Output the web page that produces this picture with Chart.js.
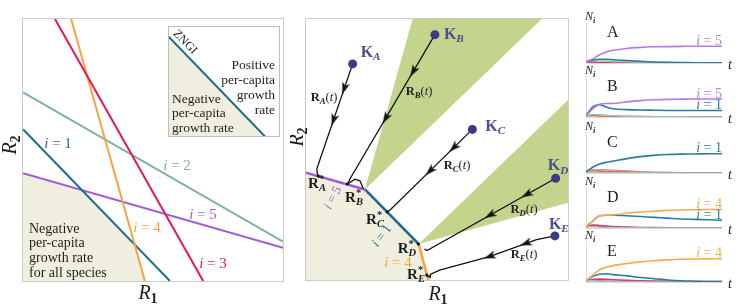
<!DOCTYPE html>
<html>
<head>
<meta charset="utf-8">
<script src="https://cdn.jsdelivr.net/npm/chart.js@4.4.1/dist/chart.umd.min.js"></script>
<style>
  body { margin: 0; background: #fff; }
  #wrap { position: relative; width: 748px; height: 308px; overflow: hidden; }
  canvas { position: absolute; }
</style>
</head>
<body>
<div id="wrap">
  <canvas id="leftChart" width="290" height="308" style="left:0px;top:0px"></canvas>
  <canvas id="insetChart" width="112" height="111" style="left:168px;top:26px"></canvas>
  <canvas id="midChart" width="290" height="308" style="left:290px;top:0px"></canvas>
  <canvas id="nA" width="168" height="62" style="left:580px;top:11px"></canvas>
  <canvas id="nB" width="168" height="62" style="left:580px;top:65px"></canvas>
  <canvas id="nC" width="168" height="62" style="left:580px;top:121px"></canvas>
  <canvas id="nD" width="168" height="62" style="left:580px;top:176px"></canvas>
  <canvas id="nE" width="168" height="62" style="left:580px;top:230px"></canvas>
</div>
<script>
// zero net growth isoclines, end points [R1, R2]
const zngi1 = [[0, 5.79], [5.65, 0]];
const zngi2 = [[0, 7.2], [10, 1.5]];
const zngi3 = [[1.23, 10], [6.93, 0]];
const zngi4 = [[1.85, 10], [4.69, 0]];
const zngi5 = [[0, 4.11], [10, 1.27]];
const zngiNames = ['1', '2', '3', '4', '5'];

// region where every species declines
const envelope = [[0, 0], [0, 4.11], [2.25, 3.47], [4.3, 1.38], [4.67, 0]];

// inset
const insetLine = [[0, 0.91], [0.87, 0]];
const insetShade = [[0, 0], [0, 0.91], [0.87, 0]];

// middle panel
const cone1 = [[2.25, 3.47], [4.07, 10], [9.0, 10]];
const cone2 = [[4.3, 1.38], [10, 6.9], [10, 2.96]];
const supplyNames = ['A', 'B', 'C', 'D', 'E'];
const supplyPts = [[1.78, 8.28], [4.92, 9.4], [6.35, 5.77], [9.53, 3.9], [9.5, 1.69]];
const eqPts = [[0.47, 3.98], [1.58, 3.68], [3.1, 2.61], [4.29, 1.38], [4.61, 0.19]];
const trajA = [[1.78, 8.28], [0.41, 4.25], [0.44, 4.05], [0.47, 3.98]];
const trajB = [[4.92, 9.4], [1.66, 3.84], [1.61, 3.70], [1.87, 3.86], [2.06, 3.8], [2.19, 3.5]];
const trajC = [[6.35, 5.77], [3.2, 2.67], [3.1, 2.61]];
const trajD = [[9.53, 3.9], [4.62, 1.13], [4.52, 1.18]];
const trajE = [[9.5, 1.69], [8.8, 1.55], [7.0, 0.9], [5.1, 0.38], [4.76, 0.22], [4.74, 0.1], [4.62, 0.17]];
const arrowAt = [0.22, 0.5];

// abundance time series N_i(t), one panel per supply point
const tSteps = [0, 0.5, 1, 1.5, 2, 3, 4, 5, 6, 7, 8, 9, 10];
const nA1 = [0.03, 0.07, 0.09, 0.09, 0.08, 0.06, 0.04, 0.025, 0.015, 0.01, 0.005, 0.003, 0.002];
const nA2 = [0.03, 0.05, 0.05, 0.045, 0.04, 0.03, 0.02, 0.012, 0.008, 0.005, 0.003, 0.002, 0.001];
const nA3 = [0.03, 0.02, 0.012, 0.008, 0.005, 0.003, 0.002, 0.001, 0, 0, 0, 0, 0];
const nA4 = [0.03, 0.025, 0.02, 0.015, 0.01, 0.006, 0.004, 0.002, 0.001, 0, 0, 0, 0];
const nA5 = [0.03, 0.1, 0.2, 0.27, 0.31, 0.355, 0.38, 0.395, 0.4, 0.405, 0.41, 0.41, 0.41];

const nB1 = [0.03, 0.25, 0.3, 0.24, 0.2, 0.18, 0.17, 0.165, 0.16, 0.16, 0.16, 0.16, 0.16];
const nB2 = [0.03, 0.06, 0.05, 0.04, 0.03, 0.02, 0.012, 0.007, 0.004, 0.002, 0.001, 0, 0];
const nB3 = [0.03, 0.045, 0.04, 0.03, 0.022, 0.014, 0.009, 0.006, 0.004, 0.003, 0.002, 0.002, 0.002];
const nB4 = [0.03, 0.03, 0.02, 0.015, 0.01, 0.005, 0.003, 0.002, 0.001, 0, 0, 0, 0];
const nB5 = [0.03, 0.2, 0.31, 0.33, 0.33, 0.37, 0.4, 0.42, 0.43, 0.435, 0.44, 0.44, 0.44];

const nC1 = [0.03, 0.14, 0.22, 0.26, 0.29, 0.35, 0.4, 0.43, 0.45, 0.46, 0.465, 0.47, 0.47];
const nC2 = [0.03, 0.03, 0.02, 0.015, 0.01, 0.005, 0.003, 0.002, 0.001, 0, 0, 0, 0];
const nC3 = [0.03, 0.04, 0.035, 0.03, 0.025, 0.017, 0.011, 0.007, 0.005, 0.003, 0.002, 0.002, 0.002];
const nC4 = [0.03, 0.06, 0.065, 0.06, 0.05, 0.035, 0.022, 0.013, 0.008, 0.005, 0.003, 0.002, 0.001];
const nC5 = [0.03, 0.07, 0.08, 0.075, 0.065, 0.045, 0.03, 0.018, 0.01, 0.006, 0.004, 0.002, 0.001];

const nD1 = [0.03, 0.17, 0.3, 0.31, 0.31, 0.3, 0.28, 0.26, 0.24, 0.22, 0.21, 0.2, 0.19];
const nD2 = [0.03, 0.03, 0.02, 0.012, 0.008, 0.004, 0.002, 0.001, 0, 0, 0, 0, 0];
const nD3 = [0.03, 0.07, 0.06, 0.045, 0.035, 0.022, 0.014, 0.009, 0.006, 0.004, 0.003, 0.002, 0.002];
const nD4 = [0.03, 0.17, 0.3, 0.31, 0.32, 0.36, 0.39, 0.41, 0.43, 0.44, 0.445, 0.45, 0.45];
const nD5 = [0.03, 0.05, 0.04, 0.03, 0.02, 0.01, 0.005, 0.003, 0.002, 0.001, 0, 0, 0];

const nE1 = [0.03, 0.14, 0.19, 0.2, 0.18, 0.15, 0.11, 0.08, 0.05, 0.03, 0.02, 0.01, 0.01];
const nE2 = [0.03, 0.03, 0.02, 0.012, 0.008, 0.004, 0.002, 0.001, 0, 0, 0, 0, 0];
const nE3 = [0.03, 0.06, 0.07, 0.065, 0.055, 0.04, 0.03, 0.022, 0.016, 0.012, 0.01, 0.008, 0.008];
const nE4 = [0.03, 0.17, 0.3, 0.36, 0.4, 0.45, 0.49, 0.52, 0.54, 0.555, 0.56, 0.565, 0.57];
const nE5 = [0.03, 0.04, 0.03, 0.02, 0.015, 0.008, 0.004, 0.002, 0.001, 0, 0, 0, 0];

const C1 = '#1f6e8c', C2 = '#80b39c', C3 = '#e2185c', C4 = '#f7a340', C5 = '#a45ad5';
const S1 = '#2b7c9b', S2 = '#9cc7b0', S3 = '#e0336b', S4 = '#f7aa52', S5 = '#b57be3';
const BEIGE = '#f0efdf', CONE = '#c3d58d', KCOL = '#3c3c82', KTXT = '#4d4d90', INK = '#1e1e1e';
const SERIF = '"Liberation Serif", "DejaVu Serif", serif';

function toXY(arr) { return arr.map(p => ({ x: p[0], y: p[1] })); }

function lineDs(arr, color, width) {
  return { data: toXY(arr), borderColor: color, borderWidth: width, pointRadius: 0, fill: false, tension: 0 };
}
function shapeDs(arr, color) {
  return { data: toXY(arr), borderColor: 'transparent', borderWidth: 0, pointRadius: 0, fill: 'shape', backgroundColor: color };
}

function panelOpts(pad, xmax, ymax) {
  return {
    responsive: false, animation: false, events: [],
    layout: { padding: pad },
    plugins: { legend: { display: false }, tooltip: { enabled: false } },
    scales: {
      x: { type: 'linear', display: false, min: 0, max: xmax },
      y: { type: 'linear', display: false, min: 0, max: ymax }
    }
  };
}

// draws mixed text: parts = [[text, style]], style words: it b sub sup nx
function rich(ctx, x, y, parts, o) {
  const size = o.size || 14;
  ctx.save();
  ctx.translate(x, y);
  if (o.rot) ctx.rotate(o.rot * Math.PI / 180);
  ctx.fillStyle = o.color || INK;
  ctx.textBaseline = 'middle';
  ctx.textAlign = 'left';
  let w = 0;
  const m = parts.map(([t, st = '']) => {
    const small = st.includes('sub') || st.includes('sup');
    const font = (st.includes('it') ? 'italic ' : '') + (st.includes('b') ? 'bold ' : '') + (small ? size * 0.7 : size) + 'px ' + SERIF;
    ctx.font = font;
    const tw = ctx.measureText(t).width;
    const nx = st.includes('nx');
    if (!nx) w += tw;
    return { t, font, tw, nx, dy: st.includes('sub') ? size * 0.28 : st.includes('sup') ? -size * 0.3 : 0 };
  });
  let cx = o.align === 'right' ? -w : o.align === 'center' ? -w / 2 : 0;
  for (const p of m) {
    ctx.font = p.font;
    ctx.fillText(p.t, cx, p.dy);
    if (!p.nx) cx += p.tw;
  }
  ctx.restore();
}
function iEq(n) { return [['i', 'it'], [' = ' + n, '']]; }

const framePlugin = {
  id: 'frame',
  afterDatasetsDraw(chart) {
    const a = chart.chartArea, ctx = chart.ctx;
    ctx.save();
    ctx.strokeStyle = '#cbcbcb';
    ctx.lineWidth = 1;
    ctx.strokeRect(a.left - 0.5, a.top - 0.5, a.right - a.left + 1, a.bottom - a.top + 1);
    ctx.restore();
  }
};

// ---------- left panel ----------
const leftText = {
  id: 'leftText',
  afterDraw(chart) {
    const ctx = chart.ctx;
    rich(ctx, 58, 144, iEq(zngiNames[0]), { color: C1, size: 15, align: 'center' });
    rich(ctx, 177, 166, iEq(zngiNames[1]), { color: C2, size: 15, align: 'center' });
    rich(ctx, 213, 264, iEq(zngiNames[2]), { color: C3, size: 15, align: 'center' });
    rich(ctx, 147, 228, iEq(zngiNames[3]), { color: C4, size: 15, align: 'center' });
    rich(ctx, 203, 215, iEq(zngiNames[4]), { color: C5, size: 15, align: 'center' });
    const lines = ['Negative', 'per-capita', 'growth rate', 'for all species'];
    lines.forEach((s, k) => rich(ctx, 29, 229 + k * 14.8, [[s, '']], { size: 14 }));
    rich(ctx, 148, 294, [['R', 'it'], ['1', 'sub']], { size: 20, align: 'center' });
    rich(ctx, 11, 145, [['R', 'it'], ['2', 'sub']], { size: 20, align: 'center', rot: -90 });
  }
};

new Chart(document.getElementById('leftChart'), {
  type: 'line',
  data: {
    datasets: [
      lineDs(zngi3, C3, 2),
      lineDs(zngi4, C4, 2),
      lineDs(zngi1, C1, 2),
      lineDs(zngi5, C5, 2),
      lineDs(zngi2, C2, 2),
      shapeDs(envelope, BEIGE)
    ]
  },
  options: panelOpts({ left: 23, top: 19, right: 7, bottom: 27 }, 10, 10),
  plugins: [framePlugin, leftText]
});

// ---------- inset ----------
const insetText = {
  id: 'insetText',
  afterDraw(chart) {
    const ctx = chart.ctx;
    ctx.save();
    ctx.strokeStyle = '#bdbdbd';
    ctx.lineWidth = 1;
    ctx.strokeRect(0.5, 0.5, 111, 110);
    ctx.restore();
    rich(ctx, 17, 16, [['ZNGI', '']], { size: 12, align: 'center', rot: 46 });
    ['Positive', 'per-capita', 'growth', 'rate'].forEach((s, k) => rich(ctx, 107, 39 + k * 15, [[s, '']], { size: 13.5, align: 'right' }));
    ['Negative', 'per-capita', 'growth rate'].forEach((s, k) => rich(ctx, 4, 73 + k * 14.5, [[s, '']], { size: 13.5 }));
  }
};

new Chart(document.getElementById('insetChart'), {
  type: 'line',
  data: { datasets: [lineDs(insetLine, C1, 2), shapeDs(insetShade, BEIGE)] },
  options: panelOpts({ left: 0, top: 0, right: 0, bottom: 0 }, 1, 1),
  plugins: [insetText]
});

// ---------- middle panel ----------
const arrowImg = document.createElement('canvas');
arrowImg.width = 8; arrowImg.height = 12;
(function () {
  const c = arrowImg.getContext('2d');
  c.fillStyle = '#111';
  c.beginPath();
  c.moveTo(4, 0); c.lineTo(8, 12); c.lineTo(4, 9); c.lineTo(0, 12); c.closePath();
  c.fill();
})();

function pointAlong(path, f) {
  const seg = [];
  let total = 0;
  for (let i = 1; i < path.length; i++) {
    const d = Math.hypot(path[i][0] - path[i - 1][0], path[i][1] - path[i - 1][1]);
    seg.push(d); total += d;
  }
  let rest = f * total;
  for (let i = 0; i < seg.length; i++) {
    if (rest <= seg[i]) {
      const a = path[i], b = path[i + 1], u = rest / seg[i];
      return { x: a[0] + (b[0] - a[0]) * u, y: a[1] + (b[1] - a[1]) * u, rot: Math.atan2(b[0] - a[0], b[1] - a[1]) * 180 / Math.PI };
    }
    rest -= seg[i];
  }
}

const trajs = [trajA, trajB, trajC, trajD, trajE];
const arrows = [];
trajs.forEach(p => arrowAt.forEach(f => arrows.push(pointAlong(p, f))));

const midText = {
  id: 'midText',
  afterDraw(chart) {
    const ctx = chart.ctx, xs = chart.scales.x, ys = chart.scales.y;
    const kOff = [[8, -11], [9, 0], [13, -3], [-8, -12], [-6, -11]];
    supplyPts.forEach((p, k) => {
      rich(ctx, xs.getPixelForValue(p[0]) + kOff[k][0], ys.getPixelForValue(p[1]) + kOff[k][1],
        [['K', 'b'], [supplyNames[k], 'sub it']], { size: 16, color: KTXT });
    });
    const rPos = [[34, 98], [129, 92], [167, 166], [234, 210], [234, 255]];
    supplyNames.forEach((n, k) => {
      rich(ctx, rPos[k][0], rPos[k][1], [['R', 'b'], [n, 'sub it'], ['(', ''], ['t', 'it'], [')', '']], { size: 12.5, align: 'center' });
    });
    const sPos = [[27, 184], [64, 198], [85, 220], [117, 249], [126, 275]];
    supplyNames.forEach((n, k) => {
      rich(ctx, sPos[k][0], sPos[k][1], [['R', 'b'], ['*', 'sup nx b'], [n, 'sub it']], { size: 15, align: 'center' });
    });
    rich(ctx, 43, 198, iEq('5'), { color: C5, size: 13, align: 'center', rot: -62 });
    rich(ctx, 92, 236, iEq('1'), { color: C1, size: 13, align: 'center', rot: -53 });
    rich(ctx, 108, 263, iEq('4'), { color: C4, size: 15, align: 'center' });
    rich(ctx, 148, 295, [['R', 'it'], ['1', 'sub']], { size: 20, align: 'center' });
    rich(ctx, 8, 137, [['R', 'it'], ['2', 'sub']], { size: 20, align: 'center', rot: -90 });
  }
};

const midSets = [
  { data: toXY(supplyPts), showLine: false, pointRadius: 4.5, pointBackgroundColor: KCOL, pointBorderWidth: 0 },
  { data: toXY(eqPts), showLine: false, pointRadius: 1.6, pointBackgroundColor: '#111', pointBorderWidth: 0 },
  { data: arrows.map(a => ({ x: a.x, y: a.y })), showLine: false, pointRadius: 5, pointStyle: arrowImg, pointRotation: arrows.map(a => a.rot) }
];
trajs.forEach(p => midSets.push(lineDs(p, '#111', 1.3)));
midSets.push(lineDs(envelope.slice(1, 3), C5, 2.6));
midSets.push(lineDs(envelope.slice(2, 4), C1, 2.6));
midSets.push(lineDs(envelope.slice(3, 5), C4, 2.6));
midSets.push(shapeDs(cone1, CONE));
midSets.push(shapeDs(cone2, CONE));
midSets.push(shapeDs(envelope, BEIGE));

new Chart(document.getElementById('midChart'), {
  type: 'line',
  data: { datasets: midSets },
  options: panelOpts({ left: 16, top: 19, right: 12, bottom: 28 }, 10, 10),
  plugins: [framePlugin, midText]
});

// ---------- right panels ----------
const smallColors = [S1, S2, S3, S4, S5];

function smallPanel(id, letter, series, labelled) {
  const sets = [];
  labelled.forEach(i => sets.push(i));
  [0, 1, 2, 3, 4].forEach(i => { if (!labelled.includes(i)) sets.push(i); });
  const axesPlugin = {
    id: 'axes' + letter,
    beforeDatasetsDraw(chart) {
      const a = chart.chartArea, ctx = chart.ctx;
      ctx.save();
      ctx.strokeStyle = '#d9d9d9';
      ctx.lineWidth = 1;
      ctx.beginPath();
      ctx.moveTo(a.left + 0.5, a.top); ctx.lineTo(a.left + 0.5, a.bottom + 0.5);
      ctx.lineTo(a.right, a.bottom + 0.5);
      ctx.stroke();
      ctx.restore();
    },
    afterDraw(chart) {
      const ctx = chart.ctx, a = chart.chartArea, ys = chart.scales.y;
      rich(ctx, 5, 6, [['N', 'it'], ['i', 'sub it']], { size: 12 });
      rich(ctx, 27, a.bottom - 30, [[letter, '']], { size: 16 });
      rich(ctx, 148, a.bottom + 2, [['t', 'it']], { size: 14 });
      labelled.forEach(i => {
        const v = series[i][series[i].length - 1];
        rich(ctx, a.right, ys.getPixelForValue(v) - 5, iEq(String(i + 1)), { size: 14, align: 'right', color: smallColors[i] });
      });
    }
  };
  new Chart(document.getElementById(id), {
    type: 'line',
    data: {
      datasets: sets.map(i => ({
        data: tSteps.map((t, k) => ({ x: t, y: series[i][k] })),
        borderColor: smallColors[i], borderWidth: 1.6, pointRadius: 0, fill: false,
        cubicInterpolationMode: 'monotone'
      }))
    },
    options: panelOpts({ left: 6, top: 11, right: 26, bottom: 10 }, 10, 1),
    plugins: [axesPlugin]
  });
}

smallPanel('nA', 'A', [nA1, nA2, nA3, nA4, nA5], [4]);
smallPanel('nB', 'B', [nB1, nB2, nB3, nB4, nB5], [4, 0]);
smallPanel('nC', 'C', [nC1, nC2, nC3, nC4, nC5], [0]);
smallPanel('nD', 'D', [nD1, nD2, nD3, nD4, nD5], [3, 0]);
smallPanel('nE', 'E', [nE1, nE2, nE3, nE4, nE5], [3]);
</script>
</body>
</html>
